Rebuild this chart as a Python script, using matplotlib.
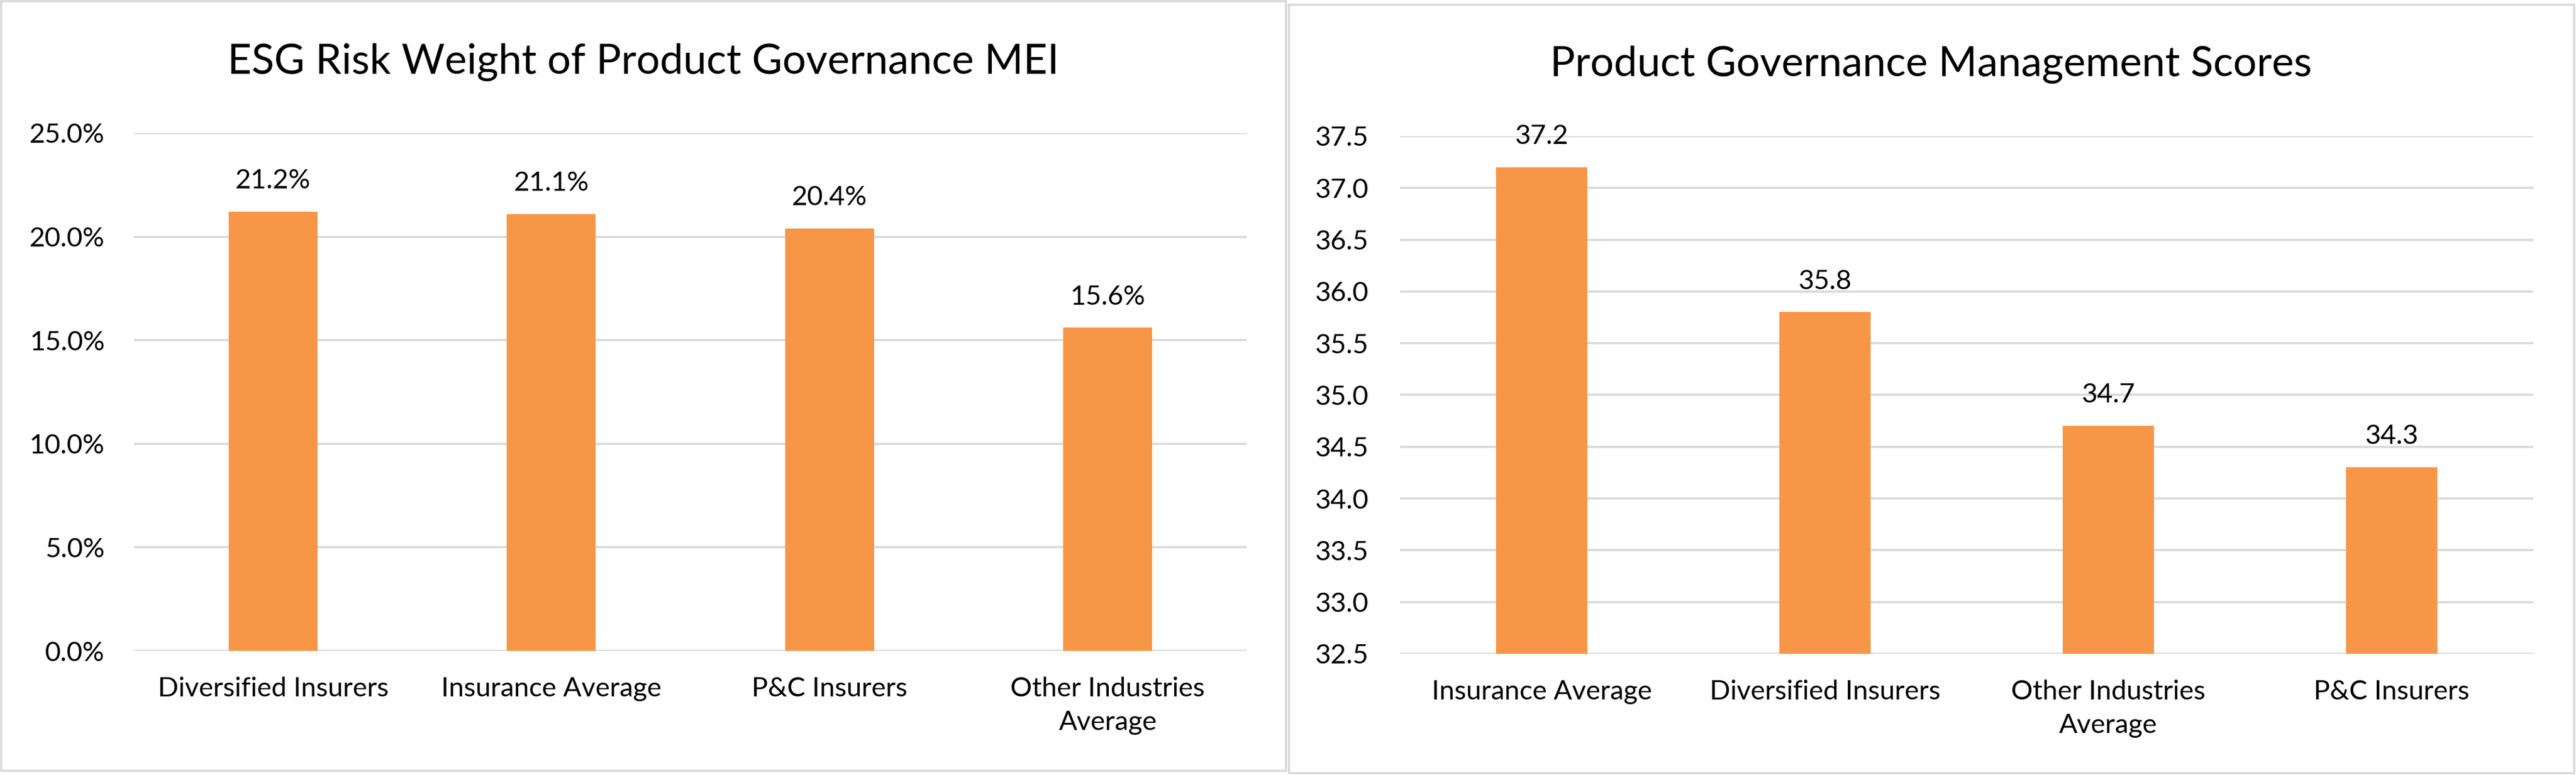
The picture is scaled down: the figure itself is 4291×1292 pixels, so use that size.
import matplotlib
matplotlib.use("Agg")
import matplotlib.pyplot as plt
from matplotlib.patches import Rectangle
from matplotlib.ticker import FuncFormatter

plt.rcParams['font.family'] = ['Lato', 'DejaVu Sans']

# left chart data
risk_categories = ['Diversified Insurers', 'Insurance Average', 'P&C Insurers', 'Other Industries\nAverage']
risk_values = [21.2, 21.1, 20.4, 15.6]
risk_ticks = [0, 5, 10, 15, 20, 25]

# right chart data
score_categories = ['Insurance Average', 'Diversified Insurers', 'Other Industries\nAverage', 'P&C Insurers']
score_values = [37.2, 35.8, 34.7, 34.3]
score_ticks = [32.5, 33.0, 33.5, 34.0, 34.5, 35.0, 35.5, 36.0, 36.5, 37.0, 37.5]

W, H = 4291, 1292
orange = '#F79646'
grid = '#D9D9D9'

fig = plt.figure(figsize=(W / 100, H / 100), dpi=100)

# panel borders (pixel boxes converted to figure fraction)
for (x0, y0, x1, y1) in [(2, 2, 2142, 1285), (2147, 8, 4288, 1289)]:
    fig.patches.append(Rectangle((x0 / W, 1 - y1 / H), (x1 - x0) / W, (y1 - y0) / H,
                                 transform=fig.transFigure, fill=False,
                                 edgecolor=grid, linewidth=2.6))


def draw(ax, cats, vals, ticks, lims, fmt, lab_fmt, ypad):
    x = range(len(cats))
    ax.bar(x, vals, width=0.32, color=orange, zorder=3)
    ax.set_xlim(-0.5, len(cats) - 0.5)
    ax.set_ylim(*lims)
    ax.set_yticks(ticks)
    ax.yaxis.set_major_formatter(FuncFormatter(fmt))
    ax.set_xticks(list(x))
    ax.set_xticklabels(cats, fontsize=32.5, linespacing=1.45)
    ax.tick_params(axis='y', length=0, pad=ypad, labelsize=32.5)
    ax.tick_params(axis='x', length=0, pad=31)
    ax.grid(axis='y', color=grid, linewidth=2.6, zorder=0)
    for s in ax.spines.values():
        s.set_visible(False)
    for xi, v in zip(x, vals):
        ax.annotate(lab_fmt(v), (xi, v), xytext=(0, 28), textcoords='offset points',
                    ha='center', va='baseline', fontsize=32.5, annotation_clip=False)


ax1 = fig.add_axes([223 / W, 1 - 1085 / H, (2077 - 223) / W, (1085 - 222) / H])
draw(ax1, risk_categories, risk_values, risk_ticks, (0, 25),
     lambda v, p: f'{v:.1f}%', lambda v: f'{v:.1f}%', 35)

ax2 = fig.add_axes([2332 / W, 1 - 1090 / H, (4220 - 2332) / W, (1090 - 227) / H])
draw(ax2, score_categories, score_values, score_ticks, (32.5, 37.5),
     lambda v, p: f'{v:.1f}', lambda v: f'{v:.1f}', 38)

fig.text(1072 / W, 1 - 103 / H, 'ESG Risk Weight of Product Governance MEI',
         ha='center', va='center', fontsize=50)
fig.text(3217 / W, 1 - 107 / H, 'Product Governance Management Scores',
         ha='center', va='center', fontsize=50)

fig.savefig('out.png', dpi=100, facecolor='white')
